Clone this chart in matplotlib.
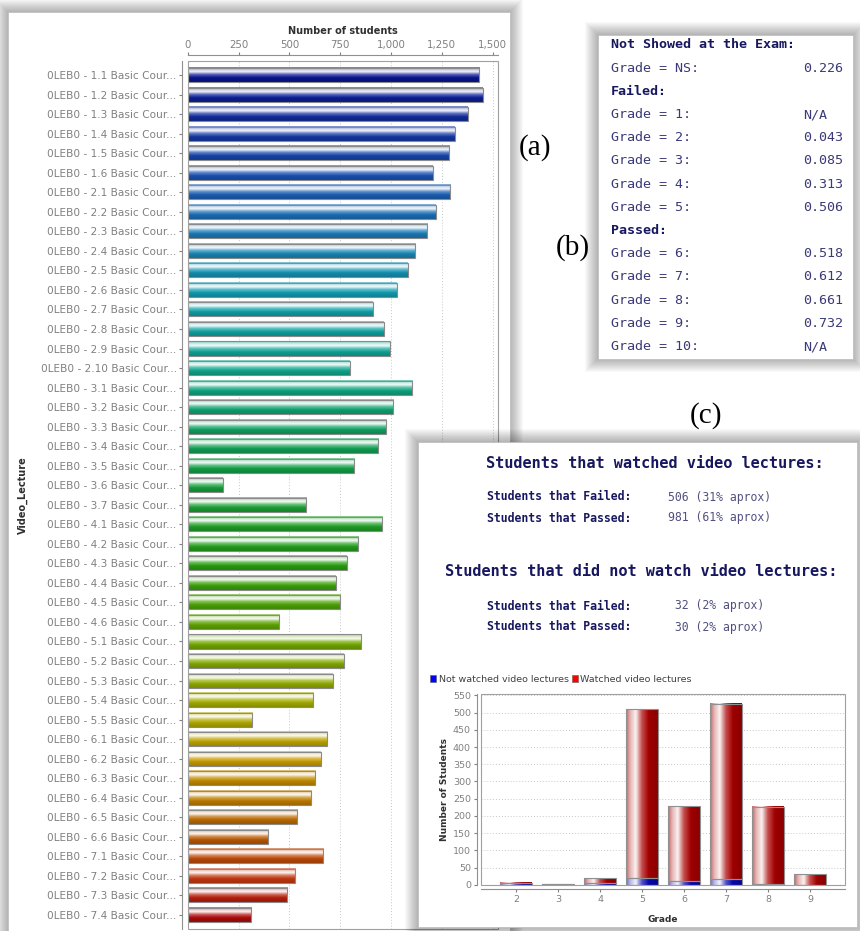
import numpy as np
import matplotlib
matplotlib.use('Agg')
import matplotlib.pyplot as plt
from matplotlib.patches import Rectangle, Patch
from matplotlib.colors import to_rgb, LinearSegmentedColormap

# ---- data ----
lectures = ['1.1', '1.2', '1.3', '1.4', '1.5', '1.6',
            '2.1', '2.2', '2.3', '2.4', '2.5', '2.6', '2.7', '2.8', '2.9', '2.10',
            '3.1', '3.2', '3.3', '3.4', '3.5', '3.6', '3.7',
            '4.1', '4.2', '4.3', '4.4', '4.5', '4.6',
            '5.1', '5.2', '5.3', '5.4', '5.5',
            '6.1', '6.2', '6.3', '6.4', '6.5', '6.6',
            '7.1', '7.2', '7.3', '7.4']
students = [1432, 1451, 1377, 1313, 1284, 1205,
            1289, 1220, 1176, 1117, 1082, 1028, 910, 964, 994, 796,
            1104, 1010, 976, 936, 818, 172, 581,
            956, 837, 782, 728, 748, 448,
            851, 767, 713, 615, 315,
            684, 654, 625, 607, 537, 395,
            665, 527, 488, 310]
xticks_a = [0, 250, 500, 750, 1000, 1250, 1500]

grade_rows = ['NS', '1', '2', '3', '4', '5', '6', '7', '8', '9', '10']
grade_probs = ['0.226', 'N/A', '0.043', '0.085', '0.313', '0.506',
               '0.518', '0.612', '0.661', '0.732', 'N/A']

grades = ['2', '3', '4', '5', '6', '7', '8', '9']
not_watched = [4, 2, 6, 20, 12, 16, 2, 0]
watched = [2, 0, 14, 490, 216, 510, 224, 31]
yticks_c = list(range(0, 551, 50))

summary = [('Students that Failed:', '506 (31% aprox)'),
           ('Students that Passed:', '981 (61% aprox)'),
           ('Students that Failed:', ' 32 (2% aprox)'),
           ('Students that Passed:', ' 30 (2% aprox)')]

W, H = 860, 931
fig = plt.figure(figsize=(W / 100, H / 100), dpi=100)
fig.patch.set_facecolor('white')


def box(x0, y0, x1, y1):
    return [x0 / W, 1 - y1 / H, (x1 - x0) / W, (y1 - y0) / H]


def panel(ax, x0, y0, x1, y1, spread=13):
    # soft shadow, then the white card
    for i in range(spread, 0, -1):
        ax.add_patch(Rectangle((x0 - i, y0 - i), x1 - x0 + 2 * i, y1 - y0 + 2 * i,
                               facecolor='black', alpha=0.022, edgecolor='none'))
    ax.add_patch(Rectangle((x0, y0), x1 - x0, y1 - y0, facecolor='white',
                           edgecolor='#c0c0c0', lw=0.6))


def shade(color, n=40, along_x=False):
    c = np.array(to_rgb(color))
    t = np.linspace(0, 1, n)
    mix = np.interp(t, [0, 0.12, 0.3, 0.5, 0.72, 1], [0.4, 0.7, 0.95, 0.3, 0, 0])
    dark = np.interp(t, [0, 0.6, 1], [1, 1, 0.82])
    rgb = (c[None, :] * (1 - mix[:, None]) + mix[:, None]) * dark[:, None]
    rgb = np.clip(rgb, 0, 1)
    return rgb[None, :, :] if along_x else rgb[:, None, :]


# background layer: panels (a), (b) and labels
bg = fig.add_axes([0, 0, 1, 1], zorder=0)
bg.set_xlim(0, W)
bg.set_ylim(H, 0)
bg.axis('off')
panel(bg, 8, 12, 510, 980)
panel(bg, 598, 35, 853, 359)

serif = dict(family='Liberation Serif', fontsize=21, color='black', ha='center', va='center')
bg.text(535, 148, '(a)', **serif)
bg.text(573, 248, '(b)', **serif)
bg.text(706, 416, '(c)', **serif)

# panel (b) text
navy = '#17175f'
mono = 'DejaVu Sans Mono'
rows = [('Not Showed at the Exam:', None)]
rows += [('Grade = %s:' % grade_rows[0], grade_probs[0]), ('Failed:', None)]
rows += [('Grade = %s:' % g, p) for g, p in zip(grade_rows[1:6], grade_probs[1:6])]
rows += [('Passed:', None)]
rows += [('Grade = %s:' % g, p) for g, p in zip(grade_rows[6:], grade_probs[6:])]
y = 45
for label, val in rows:
    if val is None:
        bg.text(611, y, label, family=mono, fontsize=9.6, fontweight='bold',
                color=navy, va='center')
    else:
        bg.text(611, y, label, family=mono, fontsize=9.6, color='#3a3a78', va='center')
        bg.text(803, y, val, family=mono, fontsize=9.6, color='#3a3a78', va='center')
    y += 23.2

# ---- panel (a): horizontal bar chart ----
ax = fig.add_axes(box(187.7, 61, 497.7, 929), zorder=1)
cmap = LinearSegmentedColormap.from_list('lec', [
    (0.0, '#0a1490'), (0.12, '#1a55b5'), (0.19, '#1a80b8'), (0.26, '#10a0b0'),
    (0.35, '#10a890'), (0.45, '#10a050'), (0.58, '#28a010'), (0.67, '#70a800'),
    (0.75, '#a8ae00'), (0.81, '#c8a000'), (0.87, '#c07800'), (0.92, '#b85000'),
    (0.95, '#c84010'), (1.0, '#b00a0a')])
ypos = np.arange(len(lectures))
bars = ax.barh(ypos, students, height=0.72, facecolor='none',
               edgecolor='#8a8a8a', lw=0.8, zorder=3)
for i, p in enumerate(bars):
    col = cmap(i / (len(lectures) - 1))
    ax.imshow(shade(col), extent=(p.get_x(), p.get_x() + p.get_width(),
                                  p.get_y() + p.get_height(), p.get_y()),
              origin='upper', aspect='auto', interpolation='bilinear', zorder=2)
ax.set_xlim(0, 1525)
ax.set_ylim(len(lectures) - 0.28, -0.72)
ax.xaxis.tick_top()
ax.xaxis.set_label_position('top')
ax.set_xticks(xticks_a)
ax.set_xticklabels(['{:,}'.format(v) for v in xticks_a])
ax.set_yticks(ypos)
ax.set_yticklabels(['0LEB0 - %s Basic Cour...' % l for l in lectures])
ax.tick_params(axis='x', labelsize=7.4, colors='#808080', length=2, pad=2)
ax.tick_params(axis='y', labelsize=7.55, colors='#808080', length=2, pad=2)
for lab in ax.get_xticklabels() + ax.get_yticklabels():
    lab.set_color('#505050')
ax.set_xlabel('Number of students', fontsize=7, fontweight='bold', color='#303030', labelpad=4)
ax.set_ylabel('Video_Lecture', fontsize=7, fontweight='bold', color='#303030', labelpad=9)
ax.grid(axis='x', linestyle=(0, (1, 2)), color='#c8c8c8', lw=0.7, zorder=0)
for s in ['right', 'bottom']:
    ax.spines[s].set_visible(False)
for s in ['left', 'top']:
    ax.spines[s].set_position(('outward', 4))
    ax.spines[s].set_color('#909090')
ax.add_patch(Rectangle((0, 0), 1, 1, transform=ax.transAxes, fill=False,
                       edgecolor='#a0a0a0', lw=0.8, clip_on=False, zorder=4))

# ---- panel (c): overlay card and text ----
ov = fig.add_axes([0, 0, 1, 1], zorder=2)
ov.set_xlim(0, W)
ov.set_ylim(H, 0)
ov.axis('off')
ov.patch.set_visible(False)
panel(ov, 418, 442, 857, 927)

ov.text(655, 463, 'Students that watched video lectures:', family=mono, fontsize=11,
        fontweight='bold', color=navy, ha='center', va='center')
ov.text(641, 571, 'Students that did not watch video lectures:', family=mono, fontsize=11,
        fontweight='bold', color=navy, ha='center', va='center')
for yy, (lab, val) in zip([497, 518, 606, 627], summary):
    ov.text(487, yy, lab, family=mono, fontsize=8.3, fontweight='bold', color=navy, va='center')
    ov.text(668, yy, val, family=mono, fontsize=8.3, color='#505080', va='center')

# ---- panel (c): stacked bar chart ----
axc = fig.add_axes(box(480.7, 694.3, 845, 884.8), zorder=3)
xc = np.arange(len(grades))
b1 = axc.bar(xc, not_watched, width=0.75, facecolor='none', edgecolor='#909090', lw=0.8, zorder=3)
b2 = axc.bar(xc, watched, width=0.75, bottom=not_watched, facecolor='none',
             edgecolor='#909090', lw=0.8, zorder=3)
for group, col in [(b1, '#0808b0'), (b2, '#a80000')]:
    for p in group:
        if p.get_height() <= 0:
            continue
        axc.imshow(shade(col, along_x=True),
                   extent=(p.get_x(), p.get_x() + p.get_width(), p.get_y(), p.get_y() + p.get_height()),
                   origin='lower', aspect='auto', interpolation='bilinear', zorder=2)
axc.set_xlim(-0.84, len(grades) - 0.17)
axc.set_ylim(0, 553)
axc.set_xticks(xc)
axc.set_xticklabels(grades)
axc.set_yticks(yticks_c)
axc.tick_params(labelsize=6.8, colors='#808080', length=2, pad=2)
for lab in axc.get_xticklabels() + axc.get_yticklabels():
    lab.set_color('#505050')
axc.set_xlabel('Grade', fontsize=6.5, fontweight='bold', color='#303030', labelpad=8)
axc.set_ylabel('Number of Students', fontsize=6.5, fontweight='bold', color='#303030', labelpad=3)
axc.grid(axis='y', linestyle=(0, (1, 2)), color='#c8c8c8', lw=0.7, zorder=0)
for s in ['right', 'top']:
    axc.spines[s].set_visible(False)
for s in ['left', 'bottom']:
    axc.spines[s].set_position(('outward', 3))
    axc.spines[s].set_color('#909090')
axc.add_patch(Rectangle((0, 0), 1, 1, transform=axc.transAxes, fill=False,
                        edgecolor='#a0a0a0', lw=0.8, clip_on=False, zorder=4))
handles = [Patch(facecolor='#0000ff', edgecolor='#606060', lw=0.4),
           Patch(facecolor='#ff0000', edgecolor='#606060', lw=0.4)]
leg = axc.legend(handles, ['Not watched video lectures', 'Watched video lectures'],
                 loc='center left', bbox_to_anchor=(-0.14, 1.08), ncol=2, frameon=False,
                 fontsize=6.8, handlelength=0.7, handleheight=0.7, handletextpad=0.25,
                 columnspacing=0.3, borderaxespad=0, borderpad=0)
for t in leg.get_texts():
    t.set_color('#404040')

fig.savefig('out.png', dpi=100)
